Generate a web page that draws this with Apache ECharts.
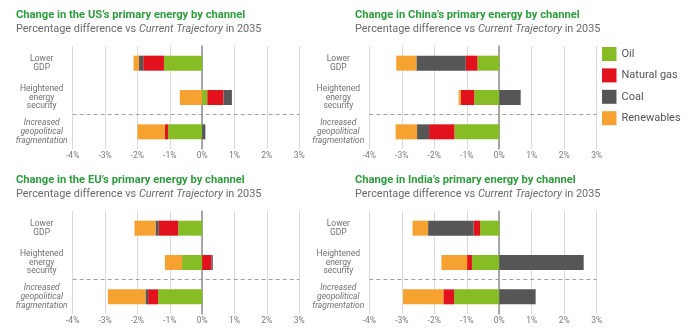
<!DOCTYPE html>
<html>
<head>
<meta charset="utf-8">
<script src="https://cdn.jsdelivr.net/npm/echarts@6/dist/echarts.min.js"></script>
<style>
  html, body { margin: 0; padding: 0; background: #fff; }
  #chart { width: 698px; height: 330px; }
</style>
</head>
<body>
<div id="chart"></div>
<script>
// Scenario channels (rows of every panel)
const categories = ['Lower\nGDP', 'Heightened\nenergy\nsecurity', 'Increased\ngeopolitical\nfragmentation'];
// Percentage-point axis ticks
const xTicks = [-4, -3, -2, -1, 0, 1, 2, 3];
const fuels = ['Oil', 'Natural gas', 'Coal', 'Renewables'];

// Change in primary energy by fuel, % vs Current Trajectory in 2035
const usOil   = [-1.18, 0.16, -1.05];
const usGas   = [-0.64, 0.50, -0.10];
const usCoal  = [-0.13, 0.26, 0.10];
const usRen   = [-0.17, -0.69, -0.85];

const chinaOil  = [-0.67, -0.77, -1.38];
const chinaGas  = [-0.36, -0.41, -0.78];
const chinaCoal = [-1.52, 0.66, -0.37];
const chinaRen  = [-0.62, -0.07, -0.66];

const euOil  = [-0.74, -0.62, -1.36];
const euGas  = [-0.60, 0.29, -0.31];
const euCoal = [-0.10, 0.04, -0.08];
const euRen  = [-0.65, -0.53, -1.16];

const indiaOil  = [-0.59, -0.84, -1.39];
const indiaGas  = [-0.20, -0.15, -0.33];
const indiaCoal = [-1.40, 2.60, 1.12];
const indiaRen  = [-0.48, -0.79, -1.24];

const titles = [
  "Change in the US\u2019s primary energy by channel",
  "Change in China\u2019s primary energy by channel",
  "Change in the EU\u2019s primary energy by channel",
  "Change in India\u2019s primary energy by channel"
];

const FONT = 'Roboto, "Noto Sans", sans-serif';
const fuelColors = ['#86bc24', '#e2121d', '#565656', '#f6a231'];

const panels = [
  { data: [usOil, usGas, usCoal, usRen],             left: 72.7,  width: 226.5, top: 46,  titleLeft: 16,  titleTop: 8.5 },
  { data: [chinaOil, chinaGas, chinaCoal, chinaRen], left: 369.3, width: 227.4, top: 46,  titleLeft: 355, titleTop: 8.5 },
  { data: [euOil, euGas, euCoal, euRen],             left: 72.7,  width: 226.5, top: 211, titleLeft: 16,  titleTop: 173.5 },
  { data: [indiaOil, indiaGas, indiaCoal, indiaRen], left: 369.3, width: 227.4, top: 211, titleLeft: 355, titleTop: 173.5 }
];

const option = {
  backgroundColor: '#ffffff',
  animation: false,
  textStyle: { fontFamily: FONT },
  color: fuelColors,
  title: panels.map((p, i) => ({
    text: titles[i],
    subtext: 'Percentage difference vs {i|Current Trajectory} in 2035',
    left: p.titleLeft,
    top: p.titleTop,
    padding: 0,
    itemGap: 1,
    textStyle: { fontFamily: FONT, fontSize: 11.2, fontWeight: 'bold', color: '#2c9d3c', lineHeight: 13 },
    subtextStyle: {
      fontFamily: FONT, fontSize: 10.9, color: '#6a6a6a', lineHeight: 13,
      rich: { i: { fontFamily: FONT, fontSize: 10.9, color: '#6a6a6a', fontStyle: 'italic' } }
    }
  })),
  legend: {
    data: fuels,
    orient: 'vertical',
    left: 602,
    top: 47,
    padding: 0,
    icon: 'rect',
    itemWidth: 14.5,
    itemHeight: 14,
    itemGap: 7.4,
    textStyle: { fontFamily: FONT, fontSize: 11, color: '#555' }
  },
  grid: panels.map(p => ({ left: p.left, width: p.width, top: p.top, height: 103, containLabel: false })),
  xAxis: panels.map((p, i) => ({
    type: 'value',
    gridIndex: i,
    min: xTicks[0],
    max: xTicks[xTicks.length - 1],
    interval: 1,
    axisLine: { show: false },
    axisTick: { show: false },
    splitLine: { show: true, lineStyle: { color: '#dadada', width: 1 } },
    axisLabel: {
      margin: 2,
      fontSize: 8.5,
      color: '#7a7a7a',
      formatter: v => v + '%'
    }
  })),
  yAxis: [],
  series: []
};

panels.forEach((p, i) => {
  // Category axis carrying the channel labels
  option.yAxis.push({
    type: 'category',
    gridIndex: i,
    data: categories,
    inverse: true,
    axisLine: { show: true, onZero: true, lineStyle: { color: '#8e8e8e', width: 1.5 } },
    axisTick: { show: false },
    splitLine: { show: false },
    axisLabel: {
      align: 'center',
      margin: 31,
      fontSize: 8.5,
      lineHeight: 8.6,
      color: '#707070',
      formatter: (v, idx) => idx === 2 ? '{it|' + v + '}' : v,
      rich: { it: { fontStyle: 'italic', fontSize: 8.5, lineHeight: 8.6, color: '#707070' } }
    }
  });
  // Hidden band-index axis used to place the separator between rows 2 and 3
  option.yAxis.push({
    type: 'value',
    gridIndex: i,
    min: 0,
    max: categories.length,
    inverse: true,
    show: false,
    splitLine: { show: false }
  });
});

panels.forEach((p, i) => {
  fuels.forEach((name, k) => {
    option.series.push({
      name: name,
      type: 'bar',
      xAxisIndex: i,
      yAxisIndex: 2 * i,
      stack: 'panel' + i,
      barWidth: 15,
      itemStyle: { color: fuelColors[k] },
      data: p.data[k]
    });
  });
  option.series.push({
    type: 'line',
    xAxisIndex: i,
    yAxisIndex: 2 * i + 1,
    data: [],
    silent: true,
    markLine: {
      silent: true,
      symbol: ['none', 'none'],
      label: { show: false },
      lineStyle: { color: '#a0a0a0', type: [4, 3], width: 1 },
      data: [{ yAxis: 2 }]
    }
  });
});

const chart = echarts.init(document.getElementById('chart'), null, { renderer: 'canvas' });
chart.setOption(option);
</script>
</body>
</html>
